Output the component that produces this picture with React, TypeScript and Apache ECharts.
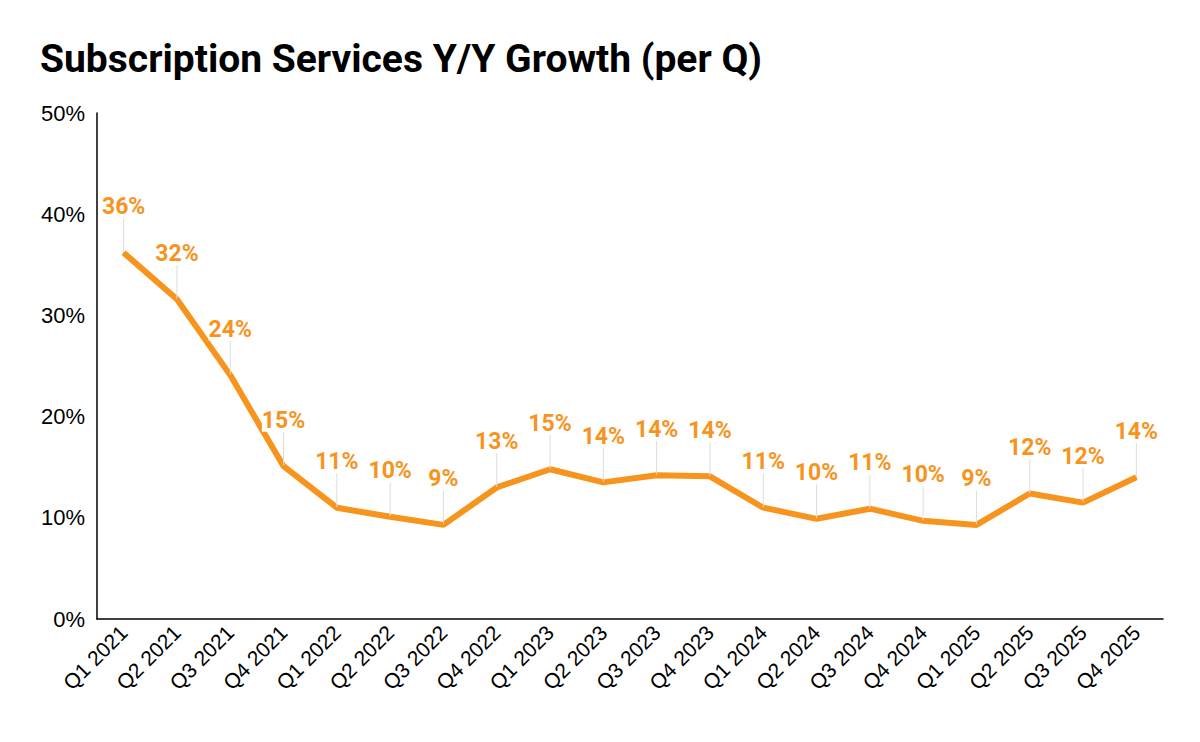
import { useEffect, useRef } from 'react';
import * as echarts from 'echarts';

const quarters = [
  'Q1 2021', 'Q2 2021', 'Q3 2021', 'Q4 2021',
  'Q1 2022', 'Q2 2022', 'Q3 2022', 'Q4 2022',
  'Q1 2023', 'Q2 2023', 'Q3 2023', 'Q4 2023',
  'Q1 2024', 'Q2 2024', 'Q3 2024', 'Q4 2024',
  'Q1 2025', 'Q2 2025', 'Q3 2025', 'Q4 2025',
];
const growth = [
  36.2, 31.6, 24.1, 15.1,
  11.0, 10.1, 9.3, 13.0,
  14.8, 13.5, 14.2, 14.1,
  11.0, 9.9, 10.9, 9.7,
  9.3, 12.4, 11.5, 14.0,
];

const ORANGE = '#F7941D';
const AXIS_FONT = '"Liberation Sans", Arial, sans-serif';

export default function App() {
  const ref = useRef<HTMLDivElement>(null);

  useEffect(() => {
    if (!ref.current) return;
    const chart = echarts.init(ref.current, undefined, { renderer: 'svg' });
    chart.setOption({
      animation: false,
      backgroundColor: '#fff',
      title: {
        text: 'Subscription Services Y/Y Growth (per Q)',
        left: 35,
        top: 34,
        textStyle: { fontFamily: 'Roboto', fontWeight: 'bold', fontSize: 39, color: '#000' },
      },
      grid: { left: 97, right: 37, top: 113, bottom: 123 },
      xAxis: {
        type: 'category',
        data: quarters,
        boundaryGap: true,
        axisLine: { lineStyle: { color: '#000', width: 1.5 } },
        axisTick: { show: false },
        axisLabel: { rotate: 45, fontFamily: AXIS_FONT, fontSize: 21, color: '#000', margin: 10 },
      },
      yAxis: {
        type: 'value',
        min: 0,
        max: 50,
        interval: 10,
        axisLine: { show: true, lineStyle: { color: '#000', width: 1.5 } },
        axisTick: { show: false },
        splitLine: { show: false },
        axisLabel: { formatter: '{value}%', fontFamily: AXIS_FONT, fontSize: 22, color: '#000', margin: 12 },
      },
      series: [
        {
          type: 'line',
          data: growth,
          symbol: 'circle',
          symbolSize: 1,
          itemStyle: { color: ORANGE },
          lineStyle: { color: ORANGE, width: 6 },
          label: {
            show: true,
            position: 'top',
            distance: 4,
            formatter: (p: any) => `${Math.round(p.value)}%`,
            fontFamily: 'Roboto',
            fontWeight: 'bold',
            fontSize: 23,
            color: ORANGE,
            backgroundColor: '#fff',
          },
          labelLayout: { dy: -30 },
          labelLine: { show: true, lineStyle: { color: '#ddd', width: 1 } },
        },
      ],
    });
    return () => chart.dispose();
  }, []);

  return <div ref={ref} style={{ position: 'fixed', left: 0, top: 0, width: 1200, height: 742 }} />;
}
